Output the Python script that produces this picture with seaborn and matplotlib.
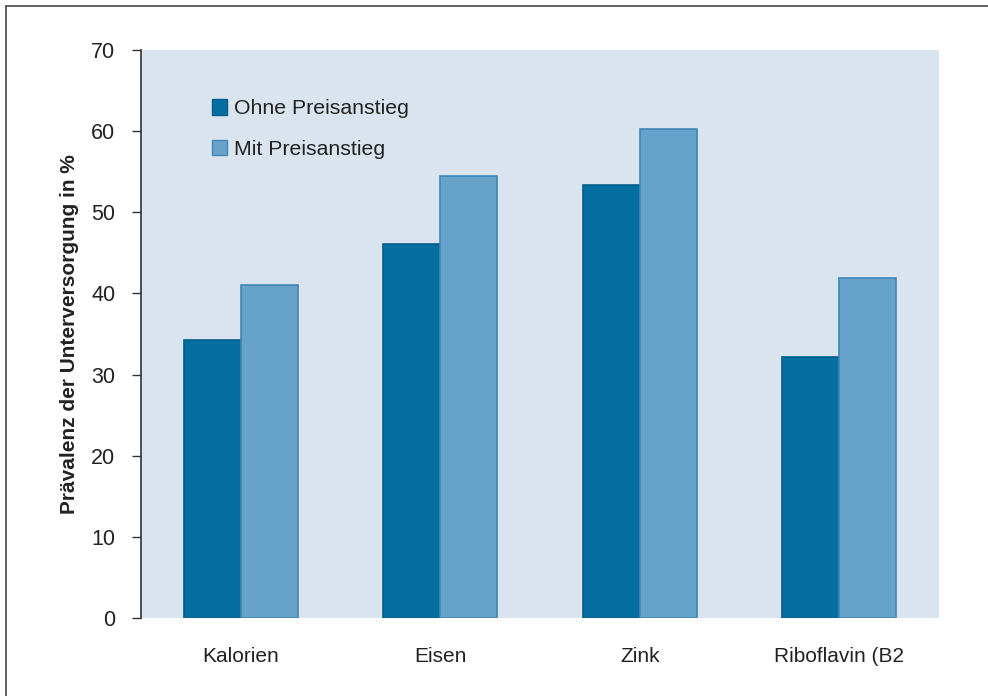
import matplotlib
matplotlib.use("Agg")
import matplotlib.pyplot as plt
from matplotlib.lines import Line2D
import seaborn as sns
import pandas as pd

categories = ["Kalorien", "Eisen", "Zink", "Riboflavin (B2"]
ohne_preisanstieg = [34.2, 46.1, 53.4, 32.2]
mit_preisanstieg = [41.0, 54.5, 60.3, 41.9]
series_names = ["Ohne Preisanstieg", "Mit Preisanstieg"]
y_ticks = [0, 10, 20, 30, 40, 50, 60, 70]

df = pd.DataFrame({
    "Kategorie": categories * 2,
    "Wert": ohne_preisanstieg + mit_preisanstieg,
    "Szenario": [series_names[0]] * len(categories) + [series_names[1]] * len(categories),
})

sns.set_theme(style="white")
plt.rcParams["font.family"] = ["Liberation Sans", "DejaVu Sans"]

dark = "#046EA1"
light = "#66A2CA"
palette = {series_names[0]: dark, series_names[1]: light}
edges = {series_names[0]: "#035E8A", series_names[1]: "#3F87B6"}
text_color = "#222222"

fig = plt.figure(figsize=(9.88, 6.96), dpi=100)
ax = fig.add_axes([141 / 988, 1 - 618 / 696, 798 / 988, 568 / 696])
ax.set_facecolor("#DAE4EE")

sns.barplot(data=df, x="Kategorie", y="Wert", hue="Szenario", order=categories,
            hue_order=series_names, palette=palette, width=0.572, gap=0,
            saturation=1, ax=ax, legend=False, linewidth=1.2)

for container, name in zip(ax.containers, series_names):
    for bar in container:
        bar.set_edgecolor(edges[name])

ax.set_xlim(-0.5, len(categories) - 0.5)
ax.set_ylim(0, 70)
ax.set_yticks(y_ticks)
ax.set_yticklabels([str(t) for t in y_ticks], fontsize=15.5, color=text_color)
ax.tick_params(axis="y", direction="out", length=6.5, width=1.0, color="#333333", pad=12, left=True)
ax.tick_params(axis="x", length=0, pad=21, labelsize=15, labelcolor=text_color)
ax.set_xlabel("")
ax.set_ylabel("Prävalenz der Unterversorgung in %", fontsize=15, fontweight="bold",
              color=text_color, labelpad=9)

for side in ["top", "right", "bottom"]:
    ax.spines[side].set_visible(False)
ax.spines["left"].set_color("#333333")
ax.spines["left"].set_linewidth(1.2)

handles = [plt.Rectangle((0, 0), 1, 1, facecolor=palette[n], edgecolor=edges[n], linewidth=1)
           for n in series_names]
ax.legend(handles, series_names, loc="upper left", bbox_to_anchor=(0.089, 0.913),
          frameon=False, fontsize=15.3, handlelength=0.72, handleheight=0.72,
          handletextpad=0.3, labelspacing=1.0, borderaxespad=0, borderpad=0,
          labelcolor=text_color)

# frame lines along the left and top of the figure
fig.add_artist(Line2D([6 / 988, 6 / 988], [0, 1 - 6 / 696], transform=fig.transFigure,
                      color="#555555", linewidth=1.3))
fig.add_artist(Line2D([6 / 988, 1], [1 - 6 / 696, 1 - 6 / 696], transform=fig.transFigure,
                      color="#555555", linewidth=1.3))

fig.savefig("out.png", dpi=100, facecolor="white")
